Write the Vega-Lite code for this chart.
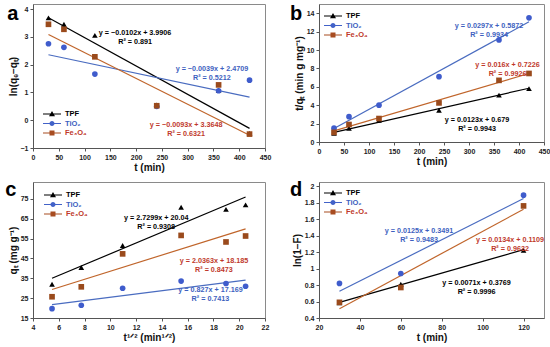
{
  "$schema": "https://vega.github.io/schema/vega-lite/v6.json",
  "padding": {"left": 4, "top": 3, "right": 2, "bottom": 1},
  "background": "white",
  "config": {
    "font": "Liberation Sans",
    "view": {"stroke": "#8a8a8a", "strokeWidth": 1},
    "axis": {"labelFont": "Liberation Sans", "labelFontSize": 7, "labelFontWeight": "bold", "labelColor": "#222", "titleFont": "Liberation Sans", "titleFontSize": 10, "titleFontWeight": "bold", "titleColor": "#111", "domainColor": "#555", "tickColor": "#555", "tickSize": 3, "grid": false, "labelFlush": false, "labelOverlap": false, "labelPadding": 2, "titlePadding": 2},
    "legend": {"orient": "none", "title": null, "symbolSize": 100, "symbolStrokeWidth": 0, "symbolOpacity": 1, "labelFont": "Liberation Sans", "labelFontSize": 7.5, "labelFontWeight": "bold", "rowPadding": 0.5, "labelOffset": 8, "padding": 0}
  },
  "datasets": {
    "pts_a": [
      {"t": 30, "v": 3.68, "s": "TPF"}, {"t": 60, "v": 3.45, "s": "TPF"}, {"t": 120, "v": 3.05, "s": "TPF"}, {"t": 240, "v": 0.55, "s": "TPF"}, {"t": 360, "v": 1.08, "s": "TPF"}, {"t": 420, "v": -0.48, "s": "TPF"},
      {"t": 30, "v": 2.75, "s": "TiO₂"}, {"t": 60, "v": 2.62, "s": "TiO₂"}, {"t": 120, "v": 1.66, "s": "TiO₂"}, {"t": 240, "v": 0.5, "s": "TiO₂"}, {"t": 360, "v": 1.06, "s": "TiO₂"}, {"t": 420, "v": 1.44, "s": "TiO₂"},
      {"t": 30, "v": 3.45, "s": "Fe₃O₄"}, {"t": 60, "v": 3.27, "s": "Fe₃O₄"}, {"t": 120, "v": 2.28, "s": "Fe₃O₄"}, {"t": 240, "v": 0.52, "s": "Fe₃O₄"}, {"t": 360, "v": 1.27, "s": "Fe₃O₄"}, {"t": 420, "v": -0.5, "s": "Fe₃O₄"}
    ],
    "fit_a": [
      {"t": 30, "v": 3.6846, "s": "TPF"}, {"t": 420, "v": -0.2934, "s": "TPF"},
      {"t": 30, "v": 2.3539, "s": "TiO₂"}, {"t": 420, "v": 0.8329, "s": "TiO₂"},
      {"t": 30, "v": 3.0858, "s": "Fe₃O₄"}, {"t": 420, "v": -0.5412, "s": "Fe₃O₄"}
    ],
    "eq_a": [
      {"t": 198, "v": 3.27, "s": "TPF", "eq": "y = −0.0102x + 3.9906\nR² = 0.891"},
      {"t": 347, "v": 2.0, "s": "TiO₂", "eq": "y = −0.0039x + 2.4709\nR² = 0.5212"},
      {"t": 297, "v": -0.02, "s": "Fe₃O₄", "eq": "y = −0.0093x + 3.3648\nR² = 0.6321"}
    ],
    "lab_a": [{"t": -50, "v": 3.6, "L": "a"}],
    "pts_b": [
      {"t": 30, "v": 0.95, "s": "TPF"}, {"t": 60, "v": 1.5, "s": "TPF"}, {"t": 120, "v": 2.35, "s": "TPF"}, {"t": 240, "v": 3.45, "s": "TPF"}, {"t": 360, "v": 5.1, "s": "TPF"}, {"t": 420, "v": 5.8, "s": "TPF"},
      {"t": 30, "v": 1.5, "s": "TiO₂"}, {"t": 60, "v": 2.75, "s": "TiO₂"}, {"t": 120, "v": 4.0, "s": "TiO₂"}, {"t": 240, "v": 7.1, "s": "TiO₂"}, {"t": 360, "v": 11.1, "s": "TiO₂"}, {"t": 420, "v": 13.5, "s": "TiO₂"},
      {"t": 30, "v": 1.05, "s": "Fe₃O₄"}, {"t": 60, "v": 1.9, "s": "Fe₃O₄"}, {"t": 120, "v": 2.55, "s": "Fe₃O₄"}, {"t": 240, "v": 4.25, "s": "Fe₃O₄"}, {"t": 360, "v": 6.7, "s": "Fe₃O₄"}, {"t": 420, "v": 7.45, "s": "Fe₃O₄"}
    ],
    "fit_b": [
      {"t": 30, "v": 1.048, "s": "TPF"}, {"t": 420, "v": 5.845, "s": "TPF"},
      {"t": 30, "v": 1.478, "s": "TiO₂"}, {"t": 420, "v": 13.061, "s": "TiO₂"},
      {"t": 30, "v": 1.203, "s": "Fe₃O₄"}, {"t": 420, "v": 7.443, "s": "Fe₃O₄"}
    ],
    "eq_b": [
      {"t": 340, "v": 13.06, "s": "TiO₂", "eq": "y = 0.0297x + 0.5872\nR² = 0.9934"},
      {"t": 377, "v": 8.8, "s": "Fe₃O₄", "eq": "y = 0.016x + 0.7226\nR² = 0.9926"},
      {"t": 316, "v": 2.85, "s": "TPF", "eq": "y = 0.0123x + 0.679\nR² = 0.9943"}
    ],
    "lab_b": [{"t": -58, "v": 13.3, "L": "b"}],
    "pts_c": [
      {"t": 5.477, "v": 32, "s": "TPF"}, {"t": 7.746, "v": 40.4, "s": "TPF"}, {"t": 10.954, "v": 51.5, "s": "TPF"}, {"t": 15.492, "v": 70.8, "s": "TPF"}, {"t": 18.974, "v": 69.7, "s": "TPF"}, {"t": 20.494, "v": 72, "s": "TPF"},
      {"t": 5.477, "v": 19.7, "s": "TiO₂"}, {"t": 7.746, "v": 21.4, "s": "TiO₂"}, {"t": 10.954, "v": 30, "s": "TiO₂"}, {"t": 15.492, "v": 33.6, "s": "TiO₂"}, {"t": 18.974, "v": 32.4, "s": "TiO₂"}, {"t": 20.494, "v": 31, "s": "TiO₂"},
      {"t": 5.477, "v": 25.7, "s": "Fe₃O₄"}, {"t": 7.746, "v": 30.7, "s": "Fe₃O₄"}, {"t": 10.954, "v": 47.3, "s": "Fe₃O₄"}, {"t": 15.492, "v": 56.6, "s": "Fe₃O₄"}, {"t": 18.974, "v": 53.3, "s": "Fe₃O₄"}, {"t": 20.494, "v": 56.3, "s": "Fe₃O₄"}
    ],
    "fit_c": [
      {"t": 5.477, "v": 34.99, "s": "TPF"}, {"t": 20.494, "v": 75.98, "s": "TPF"},
      {"t": 5.477, "v": 21.70, "s": "TiO₂"}, {"t": 20.494, "v": 34.12, "s": "TiO₂"},
      {"t": 5.477, "v": 29.34, "s": "Fe₃O₄"}, {"t": 20.494, "v": 59.92, "s": "Fe₃O₄"}
    ],
    "eq_c": [
      {"t": 13.56, "v": 67.2, "s": "TPF", "eq": "y = 2.7299x + 20.04\nR² = 0.9308"},
      {"t": 18.04, "v": 45.6, "s": "Fe₃O₄", "eq": "y = 2.0363x + 18.185\nR² = 0.8473"},
      {"t": 17.77, "v": 30.9, "s": "TiO₂", "eq": "y = 0.827x + 17.169\nR² = 0.7413"}
    ],
    "lab_c": [{"t": 1.85, "v": 76.4, "L": "c"}],
    "pts_d": [
      {"t": 30, "v": 0.585, "s": "TPF"}, {"t": 60, "v": 0.81, "s": "TPF"}, {"t": 120, "v": 1.22, "s": "TPF"},
      {"t": 30, "v": 0.82, "s": "TiO₂"}, {"t": 60, "v": 0.94, "s": "TiO₂"}, {"t": 120, "v": 1.89, "s": "TiO₂"},
      {"t": 30, "v": 0.59, "s": "Fe₃O₄"}, {"t": 60, "v": 0.77, "s": "Fe₃O₄"}, {"t": 120, "v": 1.76, "s": "Fe₃O₄"}
    ],
    "fit_d": [
      {"t": 30, "v": 0.590, "s": "TPF"}, {"t": 120, "v": 1.229, "s": "TPF"},
      {"t": 30, "v": 0.724, "s": "TiO₂"}, {"t": 120, "v": 1.849, "s": "TiO₂"},
      {"t": 30, "v": 0.513, "s": "Fe₃O₄"}, {"t": 120, "v": 1.719, "s": "Fe₃O₄"}
    ],
    "eq_d": [
      {"t": 68.9, "v": 1.5, "s": "TiO₂", "eq": "y = 0.0125x + 0.3491\nR² = 0.9483"},
      {"t": 113.4, "v": 1.39, "s": "Fe₃O₄", "eq": "y = 0.0134x + 0.1109\nR² = 0.9632"},
      {"t": 97, "v": 0.87, "s": "TPF", "eq": "y = 0.0071x + 0.3769\nR² = 0.9996"}
    ],
    "lab_d": [{"t": 5.8, "v": 1.88, "L": "d"}]
  },
  "concat": [
    {
      "width": 232, "height": 144,
      "encoding": {
        "x": {"field": "t", "type": "quantitative", "scale": {"domain": [0, 450], "nice": false, "zero": false}, "axis": {"values": [0, 50, 100, 150, 200, 250, 300, 350, 400, 450], "title": "t (min)"}},
        "y": {"field": "v", "type": "quantitative", "scale": {"domain": [-1, 4.18], "nice": false, "zero": false}, "axis": {"values": [-1, 0, 1, 2, 3, 4], "title": "ln(qₑ−qₜ)"}}
      },
      "layer": [
        {"data": {"name": "fit_a"}, "mark": {"type": "line", "strokeWidth": 1.2}, "encoding": {"stroke": {"field": "s", "type": "nominal", "scale": {"domain": ["TPF", "TiO₂", "Fe₃O₄"], "range": ["#000000", "#4a6cc0", "#c0652b"]}, "legend": null}}},
        {"data": {"name": "pts_a"}, "mark": {"type": "point", "filled": true, "size": 32, "opacity": 1}, "encoding": {"shape": {"field": "s", "type": "nominal", "scale": {"domain": ["TPF", "TiO₂", "Fe₃O₄"], "range": ["triangle-up", "circle", "square"]}, "legend": null}, "fill": {"field": "s", "type": "nominal", "scale": {"domain": ["TPF", "TiO₂", "Fe₃O₄"], "range": ["#000000", "#3f5ccc", "#9a4a1c"]}, "legend": null}}},
        {"data": {"name": "pts_a"}, "mark": {"type": "point", "filled": true, "opacity": 0},
          "encoding": {
            "shape": {"field": "s", "type": "nominal", "scale": {"domain": ["TPF", "TiO₂", "Fe₃O₄"], "range": ["M-1.8,-0.08H1.8V0.08H-1.8Z M0,-0.6L0.6,0.45H-0.6Z", "M-1.8,-0.08H1.8V0.08H-1.8Z M-0.5,0A0.5,0.5 0 1,1 0.5,0A0.5,0.5 0 1,1 -0.5,0Z", "M-1.8,-0.08H1.8V0.08H-1.8Z M-0.5,-0.5H0.5V0.5H-0.5Z"]}, "legend": {"legendX": 14, "legendY": 105, "encode": {"symbols": {"update": {"opacity": {"value": 1}}}, "labels": {"update": {"fill": [{"test": "datum.label == 'TiO₂'", "value": "#3d5fc0"}, {"test": "datum.label == 'Fe₃O₄'", "value": "#c0392b"}, {"value": "#000000"}]}}}}},
            "color": {"field": "s", "type": "nominal", "scale": {"domain": ["TPF", "TiO₂", "Fe₃O₄"], "range": ["#000000", "#4262c8", "#a84c20"]}, "legend": {"legendX": 14, "legendY": 105, "encode": {"symbols": {"update": {"opacity": {"value": 1}}}, "labels": {"update": {"fill": [{"test": "datum.label == 'TiO₂'", "value": "#3d5fc0"}, {"test": "datum.label == 'Fe₃O₄'", "value": "#c0392b"}, {"value": "#000000"}]}}}}}
          }},
        {"data": {"name": "eq_a"}, "mark": {"type": "text", "lineBreak": "\n", "align": "center", "baseline": "top", "fontSize": 7.2, "fontWeight": "bold", "lineHeight": 9, "font": "Liberation Sans"}, "encoding": {"text": {"field": "eq"}, "color": {"field": "s", "type": "nominal", "scale": {"domain": ["TPF", "TiO₂", "Fe₃O₄"], "range": ["#000000", "#3d5fc0", "#c0392b"]}, "legend": null}}},
        {"data": {"name": "lab_a"}, "mark": {"type": "text", "align": "left", "baseline": "alphabetic", "fontSize": 20, "fontWeight": "bold", "font": "Liberation Sans", "color": "#000"}, "encoding": {"text": {"field": "L"}}}
      ],
      "resolve": {"scale": {"shape": "independent", "color": "independent"}}
    },
    {
      "width": 225, "height": 138,
      "encoding": {
        "x": {"field": "t", "type": "quantitative", "scale": {"domain": [0, 450], "nice": false, "zero": false}, "axis": {"values": [0, 50, 100, 150, 200, 250, 300, 350, 400, 450], "title": "t (min)"}},
        "y": {"field": "v", "type": "quantitative", "scale": {"domain": [0, 15], "nice": false, "zero": false}, "axis": {"values": [0, 2, 4, 6, 8, 10, 12, 14], "title": "t/qₜ (min g mg⁻¹)"}}
      },
      "layer": [
        {"data": {"name": "fit_b"}, "mark": {"type": "line", "strokeWidth": 1.2}, "encoding": {"stroke": {"field": "s", "type": "nominal", "scale": {"domain": ["TPF", "TiO₂", "Fe₃O₄"], "range": ["#000000", "#4a6cc0", "#c0652b"]}, "legend": null}}},
        {"data": {"name": "pts_b"}, "mark": {"type": "point", "filled": true, "size": 32, "opacity": 1}, "encoding": {"shape": {"field": "s", "type": "nominal", "scale": {"domain": ["TPF", "TiO₂", "Fe₃O₄"], "range": ["triangle-up", "circle", "square"]}, "legend": null}, "fill": {"field": "s", "type": "nominal", "scale": {"domain": ["TPF", "TiO₂", "Fe₃O₄"], "range": ["#000000", "#3f5ccc", "#9a4a1c"]}, "legend": null}}},
        {"data": {"name": "pts_b"}, "mark": {"type": "point", "filled": true, "opacity": 0},
          "encoding": {
            "shape": {"field": "s", "type": "nominal", "scale": {"domain": ["TPF", "TiO₂", "Fe₃O₄"], "range": ["M-1.8,-0.08H1.8V0.08H-1.8Z M0,-0.6L0.6,0.45H-0.6Z", "M-1.8,-0.08H1.8V0.08H-1.8Z M-0.5,0A0.5,0.5 0 1,1 0.5,0A0.5,0.5 0 1,1 -0.5,0Z", "M-1.8,-0.08H1.8V0.08H-1.8Z M-0.5,-0.5H0.5V0.5H-0.5Z"]}, "legend": {"legendX": 9, "legendY": 7, "encode": {"symbols": {"update": {"opacity": {"value": 1}}}, "labels": {"update": {"fill": [{"test": "datum.label == 'TiO₂'", "value": "#3d5fc0"}, {"test": "datum.label == 'Fe₃O₄'", "value": "#c0392b"}, {"value": "#000000"}]}}}}},
            "color": {"field": "s", "type": "nominal", "scale": {"domain": ["TPF", "TiO₂", "Fe₃O₄"], "range": ["#000000", "#4262c8", "#a84c20"]}, "legend": {"legendX": 9, "legendY": 7, "encode": {"symbols": {"update": {"opacity": {"value": 1}}}, "labels": {"update": {"fill": [{"test": "datum.label == 'TiO₂'", "value": "#3d5fc0"}, {"test": "datum.label == 'Fe₃O₄'", "value": "#c0392b"}, {"value": "#000000"}]}}}}}
          }},
        {"data": {"name": "eq_b"}, "mark": {"type": "text", "lineBreak": "\n", "align": "center", "baseline": "top", "fontSize": 7.2, "fontWeight": "bold", "lineHeight": 9, "font": "Liberation Sans"}, "encoding": {"text": {"field": "eq"}, "color": {"field": "s", "type": "nominal", "scale": {"domain": ["TPF", "TiO₂", "Fe₃O₄"], "range": ["#000000", "#3d5fc0", "#c0392b"]}, "legend": null}}},
        {"data": {"name": "lab_b"}, "mark": {"type": "text", "align": "left", "baseline": "alphabetic", "fontSize": 20, "fontWeight": "bold", "font": "Liberation Sans", "color": "#000"}, "encoding": {"text": {"field": "L"}}}
      ],
      "resolve": {"scale": {"shape": "independent", "color": "independent"}}
    },
    {
      "width": 232, "height": 136,
      "encoding": {
        "x": {"field": "t", "type": "quantitative", "scale": {"domain": [4, 22], "nice": false, "zero": false}, "axis": {"values": [4, 6, 8, 10, 12, 14, 16, 18, 20, 22], "title": "t¹ᐟ² (min¹ᐟ²)"}},
        "y": {"field": "v", "type": "quantitative", "scale": {"domain": [15, 83.5], "nice": false, "zero": false}, "axis": {"values": [15, 25, 35, 45, 55, 65, 75], "title": "qₜ (mg g⁻¹)"}}
      },
      "layer": [
        {"data": {"name": "fit_c"}, "mark": {"type": "line", "strokeWidth": 1.2}, "encoding": {"stroke": {"field": "s", "type": "nominal", "scale": {"domain": ["TPF", "TiO₂", "Fe₃O₄"], "range": ["#000000", "#4a6cc0", "#c0652b"]}, "legend": null}}},
        {"data": {"name": "pts_c"}, "mark": {"type": "point", "filled": true, "size": 32, "opacity": 1}, "encoding": {"shape": {"field": "s", "type": "nominal", "scale": {"domain": ["TPF", "TiO₂", "Fe₃O₄"], "range": ["triangle-up", "circle", "square"]}, "legend": null}, "fill": {"field": "s", "type": "nominal", "scale": {"domain": ["TPF", "TiO₂", "Fe₃O₄"], "range": ["#000000", "#3f5ccc", "#9a4a1c"]}, "legend": null}}},
        {"data": {"name": "pts_c"}, "mark": {"type": "point", "filled": true, "opacity": 0},
          "encoding": {
            "shape": {"field": "s", "type": "nominal", "scale": {"domain": ["TPF", "TiO₂", "Fe₃O₄"], "range": ["M-1.8,-0.08H1.8V0.08H-1.8Z M0,-0.6L0.6,0.45H-0.6Z", "M-1.8,-0.08H1.8V0.08H-1.8Z M-0.5,0A0.5,0.5 0 1,1 0.5,0A0.5,0.5 0 1,1 -0.5,0Z", "M-1.8,-0.08H1.8V0.08H-1.8Z M-0.5,-0.5H0.5V0.5H-0.5Z"]}, "legend": {"legendX": 15, "legendY": 8, "encode": {"symbols": {"update": {"opacity": {"value": 1}}}, "labels": {"update": {"fill": [{"test": "datum.label == 'TiO₂'", "value": "#3d5fc0"}, {"test": "datum.label == 'Fe₃O₄'", "value": "#c0392b"}, {"value": "#000000"}]}}}}},
            "color": {"field": "s", "type": "nominal", "scale": {"domain": ["TPF", "TiO₂", "Fe₃O₄"], "range": ["#000000", "#4262c8", "#a84c20"]}, "legend": {"legendX": 15, "legendY": 8, "encode": {"symbols": {"update": {"opacity": {"value": 1}}}, "labels": {"update": {"fill": [{"test": "datum.label == 'TiO₂'", "value": "#3d5fc0"}, {"test": "datum.label == 'Fe₃O₄'", "value": "#c0392b"}, {"value": "#000000"}]}}}}}
          }},
        {"data": {"name": "eq_c"}, "mark": {"type": "text", "lineBreak": "\n", "align": "center", "baseline": "top", "fontSize": 7.2, "fontWeight": "bold", "lineHeight": 9, "font": "Liberation Sans"}, "encoding": {"text": {"field": "eq"}, "color": {"field": "s", "type": "nominal", "scale": {"domain": ["TPF", "TiO₂", "Fe₃O₄"], "range": ["#000000", "#3d5fc0", "#c0392b"]}, "legend": null}}},
        {"data": {"name": "lab_c"}, "mark": {"type": "text", "align": "left", "baseline": "alphabetic", "fontSize": 20, "fontWeight": "bold", "font": "Liberation Sans", "color": "#000"}, "encoding": {"text": {"field": "L"}}}
      ],
      "resolve": {"scale": {"shape": "independent", "color": "independent"}}
    },
    {
      "width": 225, "height": 136,
      "encoding": {
        "x": {"field": "t", "type": "quantitative", "scale": {"domain": [20, 130], "nice": false, "zero": false}, "axis": {"values": [20, 40, 60, 80, 100, 120], "title": "t (min)"}},
        "y": {"field": "v", "type": "quantitative", "scale": {"domain": [0.4, 2.05], "nice": false, "zero": false}, "axis": {"values": [0.4, 0.6, 0.8, 1, 1.2, 1.4, 1.6, 1.8, 2], "format": "~g", "title": "ln(1−F)"}}
      },
      "layer": [
        {"data": {"name": "fit_d"}, "mark": {"type": "line", "strokeWidth": 1.2}, "encoding": {"stroke": {"field": "s", "type": "nominal", "scale": {"domain": ["TPF", "TiO₂", "Fe₃O₄"], "range": ["#000000", "#4a6cc0", "#c0652b"]}, "legend": null}}},
        {"data": {"name": "pts_d"}, "mark": {"type": "point", "filled": true, "size": 32, "opacity": 1}, "encoding": {"shape": {"field": "s", "type": "nominal", "scale": {"domain": ["TPF", "TiO₂", "Fe₃O₄"], "range": ["triangle-up", "circle", "square"]}, "legend": null}, "fill": {"field": "s", "type": "nominal", "scale": {"domain": ["TPF", "TiO₂", "Fe₃O₄"], "range": ["#000000", "#3f5ccc", "#9a4a1c"]}, "legend": null}}},
        {"data": {"name": "pts_d"}, "mark": {"type": "point", "filled": true, "opacity": 0},
          "encoding": {
            "shape": {"field": "s", "type": "nominal", "scale": {"domain": ["TPF", "TiO₂", "Fe₃O₄"], "range": ["M-1.8,-0.08H1.8V0.08H-1.8Z M0,-0.6L0.6,0.45H-0.6Z", "M-1.8,-0.08H1.8V0.08H-1.8Z M-0.5,0A0.5,0.5 0 1,1 0.5,0A0.5,0.5 0 1,1 -0.5,0Z", "M-1.8,-0.08H1.8V0.08H-1.8Z M-0.5,-0.5H0.5V0.5H-0.5Z"]}, "legend": {"legendX": 9, "legendY": 6, "encode": {"symbols": {"update": {"opacity": {"value": 1}}}, "labels": {"update": {"fill": [{"test": "datum.label == 'TiO₂'", "value": "#3d5fc0"}, {"test": "datum.label == 'Fe₃O₄'", "value": "#c0392b"}, {"value": "#000000"}]}}}}},
            "color": {"field": "s", "type": "nominal", "scale": {"domain": ["TPF", "TiO₂", "Fe₃O₄"], "range": ["#000000", "#4262c8", "#a84c20"]}, "legend": {"legendX": 9, "legendY": 6, "encode": {"symbols": {"update": {"opacity": {"value": 1}}}, "labels": {"update": {"fill": [{"test": "datum.label == 'TiO₂'", "value": "#3d5fc0"}, {"test": "datum.label == 'Fe₃O₄'", "value": "#c0392b"}, {"value": "#000000"}]}}}}}
          }},
        {"data": {"name": "eq_d"}, "mark": {"type": "text", "lineBreak": "\n", "align": "center", "baseline": "top", "fontSize": 7.2, "fontWeight": "bold", "lineHeight": 9, "font": "Liberation Sans"}, "encoding": {"text": {"field": "eq"}, "color": {"field": "s", "type": "nominal", "scale": {"domain": ["TPF", "TiO₂", "Fe₃O₄"], "range": ["#000000", "#3d5fc0", "#c0392b"]}, "legend": null}}},
        {"data": {"name": "lab_d"}, "mark": {"type": "text", "align": "left", "baseline": "alphabetic", "fontSize": 20, "fontWeight": "bold", "font": "Liberation Sans", "color": "#000"}, "encoding": {"text": {"field": "L"}}}
      ],
      "resolve": {"scale": {"shape": "independent", "color": "independent"}}
    }
  ],
  "columns": 2,
  "spacing": {"row": 34, "column": 54},
  "bounds": "flush"
}
